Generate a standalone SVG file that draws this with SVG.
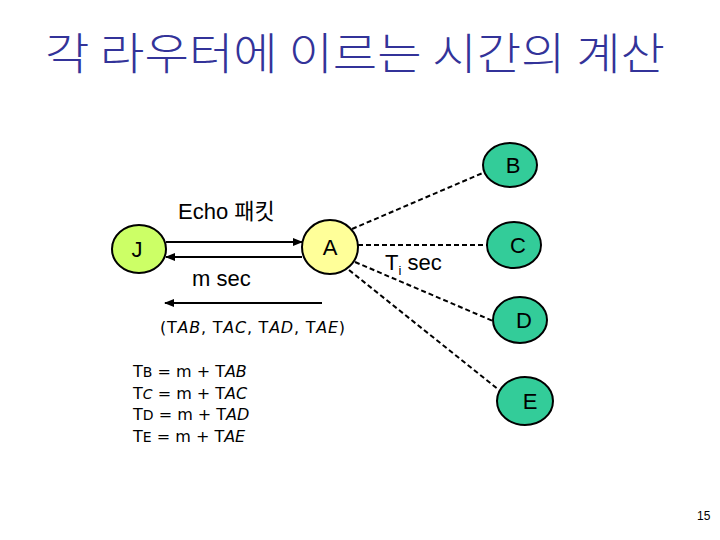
<svg xmlns="http://www.w3.org/2000/svg" width="720" height="540" viewBox="0 0 720 540">
<defs>
<marker id="ah" markerWidth="10" markerHeight="8" refX="9" refY="4" orient="auto" markerUnits="userSpaceOnUse">
<path d="M0,0 L10,4 L0,8 z" fill="#000"/>
</marker>
<style>
.n{stroke:#000;stroke-width:2}
.lbl{font-family:"Liberation Sans",Arial,sans-serif;font-size:22px;fill:#000;text-anchor:middle}
.txt{font-family:"Liberation Sans","Noto Sans CJK KR",sans-serif;font-size:22px;fill:#000}
.dash{stroke:#000;stroke-width:2;stroke-dasharray:5,3;fill:none}
.arr{stroke:#000;stroke-width:2;fill:none;marker-end:url(#ah)}
.eq{font-family:"DejaVu Sans",sans-serif;font-size:16px;fill:#000}
</style>
</defs>
<rect width="720" height="540" fill="#fff"/>
<text x="45" y="70" font-family="'Noto Sans CJK KR',sans-serif" font-size="44" font-weight="300" fill="#333399" textLength="620" lengthAdjust="spacingAndGlyphs">각 라우터에 이르는 시간의 계산</text>
<g id="connectors">
<line class="arr" x1="166" y1="242" x2="302" y2="242"/>
<line class="arr" x1="302" y1="257" x2="166" y2="257"/>
<line class="arr" x1="322" y1="303" x2="165" y2="303"/>
<line class="dash" x1="352" y1="229" x2="485" y2="172"/>
<line class="dash" x1="358" y1="245" x2="487" y2="245"/>
<line class="dash" x1="355" y1="262" x2="493" y2="321"/>
<line class="dash" x1="349" y1="270" x2="499" y2="390"/>
</g>
<g id="J"><ellipse class="n" cx="139" cy="249" rx="27" ry="24" fill="#ccff66"/><text class="lbl" x="137" y="257">J</text></g>
<g id="A"><ellipse class="n" cx="330" cy="247" rx="28" ry="27" fill="#ffff99"/><text class="lbl" x="330" y="255">A</text></g>
<g id="B"><ellipse class="n" cx="510" cy="165" rx="27" ry="22" fill="#33cc99"/><text class="lbl" x="513" y="173">B</text></g>
<g id="C"><ellipse class="n" cx="514" cy="245" rx="27" ry="23" fill="#33cc99"/><text class="lbl" x="518" y="253">C</text></g>
<g id="D"><ellipse class="n" cx="520" cy="320" rx="27" ry="23" fill="#33cc99"/><text class="lbl" x="524" y="328">D</text></g>
<g id="E"><ellipse class="n" cx="525" cy="401" rx="28" ry="24" fill="#33cc99"/><text class="lbl" x="530" y="409">E</text></g>
<text class="txt" x="178" y="219">Echo 패킷</text>
<text class="txt" x="192" y="286">m sec</text>
<text class="txt" x="385" y="270">T<tspan font-size="13" dy="5">i</tspan><tspan dy="-5"> sec</tspan></text>
<text class="eq" x="160" y="333" font-size="18" textLength="185">(T<tspan font-style="italic">AB</tspan>, T<tspan font-style="italic">AC</tspan>, T<tspan font-style="italic">AD</tspan>, T<tspan font-style="italic">AE</tspan>)</text>
<text class="eq" x="133" y="377">T<tspan font-size="14">B</tspan> = m + T<tspan font-style="italic">AB</tspan></text>
<text class="eq" x="133" y="399">T<tspan font-size="14" font-style="italic">C</tspan> = m + T<tspan font-style="italic">AC</tspan></text>
<text class="eq" x="133" y="420">T<tspan font-size="14">D</tspan> = m + T<tspan font-style="italic">AD</tspan></text>
<text class="eq" x="133" y="442">T<tspan font-size="14">E</tspan> = m + T<tspan font-style="italic">AE</tspan></text>
<text x="697" y="520" font-family="'Liberation Sans',sans-serif" font-size="12" fill="#000">15</text>
</svg>
